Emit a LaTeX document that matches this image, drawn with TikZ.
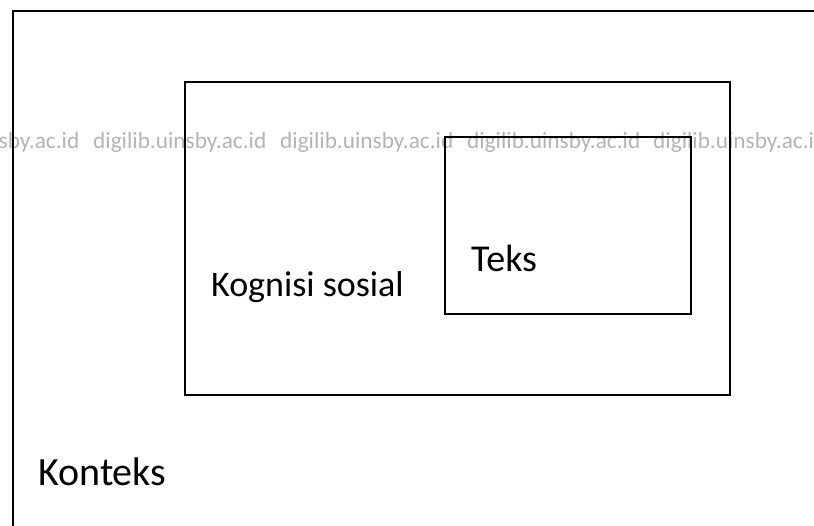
\documentclass[tikz,border=0pt]{standalone}
\usepackage{fontspec}
\setmainfont{Carlito}
\definecolor{wmgray}{RGB}{180,180,180}
\tikzset{
  box/.style={draw=black, line width=2pt},
  wm/.style={anchor=base west, inner sep=0pt, text=wmgray, font=\fontsize{23.3}{26}\selectfont},
  lbl/.style={anchor=base west, inner sep=0pt}
}
\begin{document}
\begin{tikzpicture}[x=1pt,y=-1pt]
\useasboundingbox (0,0) rectangle (814,526);
\clip (0,0) rectangle (814,526);
% watermark
\foreach \i/\xx in {0/-94,1/93,2/280,3/467,4/653}{
  \node[wm] (wm\i) at (\xx,149) {digilib.uinsby.ac.id};
}
% boxes
\draw[box] (13,11) rectangle (830,545);
\draw[box] (185,82) rectangle (730,395);
\draw[box] (445,137) rectangle (691,314);
% labels
\node[lbl, font=\fontsize{36}{40}\selectfont] (kog) at (211,297) {Kognisi sosial};
\node[lbl, font=\fontsize{38}{42}\selectfont] (teks) at (471,272) {Teks};
\node[lbl, font=\fontsize{40}{44}\selectfont] (kon) at (38,485) {Konteks};
\end{tikzpicture}
\end{document}
